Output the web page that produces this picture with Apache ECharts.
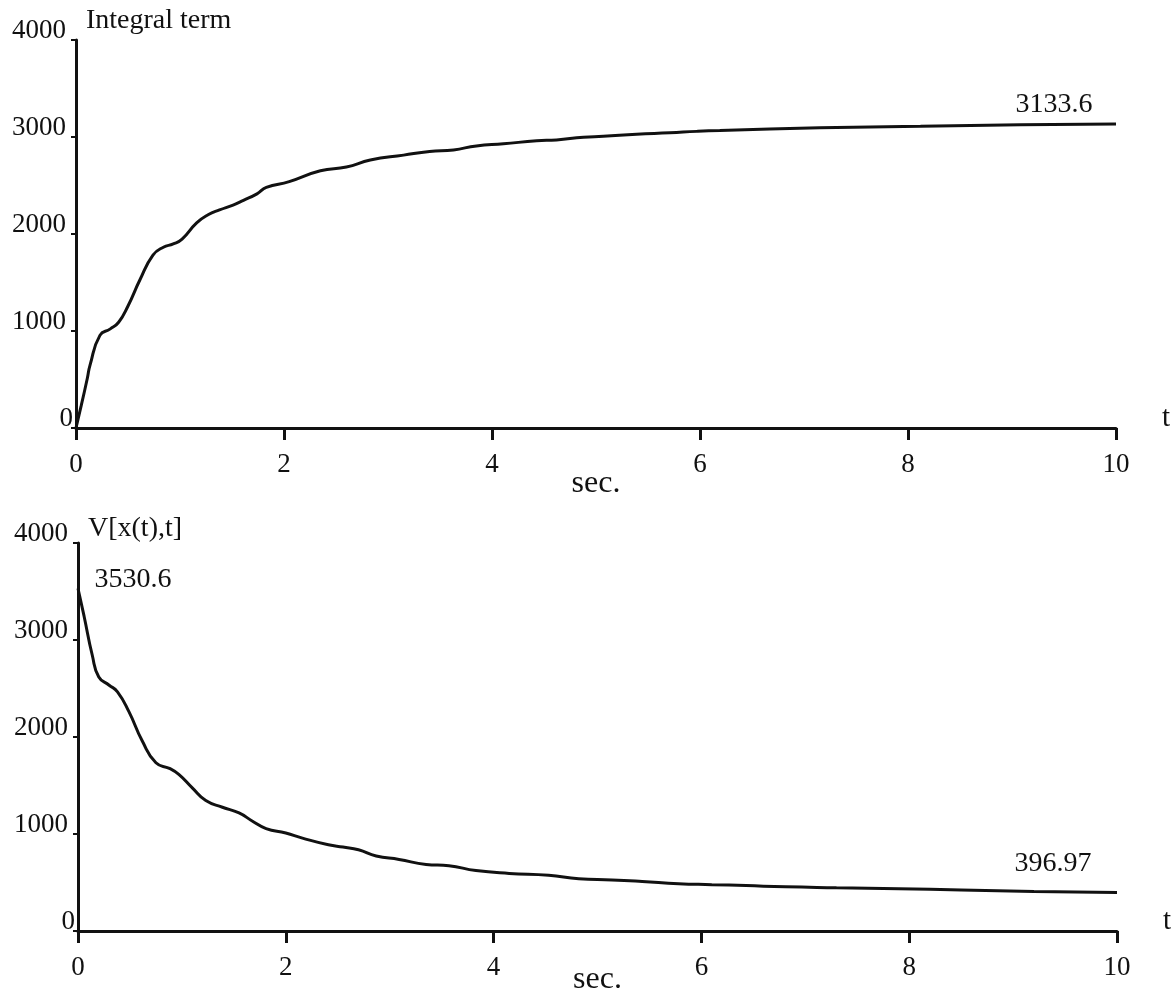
<!DOCTYPE html>
<html>
<head>
<meta charset="utf-8">
<script src="https://cdn.jsdelivr.net/npm/echarts@6/dist/echarts.min.js"></script>
<style>
  html, body { margin: 0; padding: 0; background: #fff; }
  #chart { width: 1175px; height: 996px; }
</style>
</head>
<body>
<div id="chart"></div>
<script>
// Time samples (s) and values of the integral term
const integralT = [0, 0.05, 0.109, 0.135, 0.23, 0.33, 0.41, 0.5, 0.615, 0.74, 0.84, 0.935, 1.02, 1.16, 1.27, 1.38, 1.51, 1.61, 1.74, 1.83, 2.05, 2.35, 2.6, 2.83, 3.15, 3.4, 3.63, 3.85, 4.11, 4.43, 4.62, 4.88, 5.07, 5.39, 5.71, 5.97, 6.19, 7.15, 8.12, 9.08, 10];
const integralV = [0, 230, 513, 648, 955, 1022, 1090, 1258, 1528, 1782, 1864, 1897, 1947, 2114, 2198, 2248, 2298, 2347, 2414, 2480, 2540, 2652, 2690, 2762, 2813, 2851, 2867, 2908, 2930, 2961, 2970, 2998, 3007, 3028, 3043, 3058, 3067, 3095, 3111, 3126, 3133.6];

// Time samples (s) and values of V[x(t),t]
const lyapT = [0, 0.058, 0.138, 0.2, 0.3, 0.38, 0.49, 0.62, 0.75, 0.88, 0.97, 1.1, 1.23, 1.39, 1.55, 1.68, 1.81, 2.0, 2.16, 2.41, 2.55, 2.7, 2.87, 3.09, 3.35, 3.57, 3.83, 4.15, 4.53, 4.82, 5.14, 5.43, 5.78, 6.1, 6.43, 6.81, 7.3, 7.9, 8.5, 9.2, 10];
const lyapV = [3530.6, 3248, 2840, 2619, 2534, 2466, 2262, 1956, 1734, 1676, 1614, 1475, 1345, 1276, 1217, 1132, 1056, 1010, 958, 889, 865, 838, 774, 738, 686, 673, 623, 594, 575, 539, 527, 511, 488, 478, 468, 455, 446, 436, 422, 408, 396.97];

// Axis ticks
const xTicks = [0, 2, 4, 6, 8, 10];
const yTicks = [0, 1000, 2000, 3000, 4000];

const FONT = "'Liberation Serif', 'DejaVu Serif', serif";
const INK = '#111';

function pairs(ts, vs) { return ts.map((t, i) => [t, vs[i]]); }

function xAxisFor(gridIndex) {
  return {
    type: 'value', gridIndex,
    min: xTicks[0], max: xTicks[xTicks.length - 1], interval: xTicks[1] - xTicks[0],
    name: 't', nameLocation: 'end', nameGap: 46, nameMoveOverlap: false,
    nameTextStyle: { fontFamily: FONT, fontSize: 29, color: INK, verticalAlign: 'bottom', lineHeight: 20 },
    axisLine: { show: true, onZero: false, lineStyle: { color: INK, width: 3 } },
    axisTick: { show: true, inside: false, length: 12, lineStyle: { color: INK, width: 3 } },
    axisLabel: { fontFamily: FONT, fontSize: 27, color: INK, margin: 28, lineHeight: 18, verticalAlign: 'top' },
    splitLine: { show: false }
  };
}

function secAxisFor(gridIndex, gap) {
  // label-only x axis carrying the "sec." caption under the middle of the axis
  return {
    type: 'value', gridIndex, position: 'bottom',
    min: xTicks[0], max: xTicks[xTicks.length - 1],
    name: 'sec.', nameLocation: 'middle', nameGap: gap, nameMoveOverlap: false,
    nameTextStyle: { fontFamily: FONT, fontSize: 32, color: INK, lineHeight: 32 },
    axisLine: { show: false }, axisTick: { show: false }, axisLabel: { show: false }, splitLine: { show: false }
  };
}

function yAxisFor(gridIndex, title, gap) {
  return {
    type: 'value', gridIndex,
    min: yTicks[0], max: yTicks[yTicks.length - 1], interval: yTicks[1] - yTicks[0],
    name: title, nameLocation: 'end', nameGap: gap, nameMoveOverlap: false,
    nameTextStyle: { fontFamily: FONT, fontSize: 28, color: INK, align: 'left', verticalAlign: 'bottom', lineHeight: 28, padding: [0, 0, 0, 10] },
    axisLine: { show: true, onZero: false, lineStyle: { color: INK, width: 3 } },
    axisTick: { show: true, inside: false, length: 5, lineStyle: { color: INK, width: 2 } },
    axisLabel: {
      margin: 3, verticalAlign: 'bottom', lineHeight: 18,
      fontFamily: FONT, fontSize: 27, color: INK,
      formatter: v => v === 0 ? '{z|0}' : '{n|' + v + '}',
      rich: {
        n: { fontFamily: FONT, fontSize: 27, color: INK, lineHeight: 18, padding: [0, 7, 0, 0] },
        z: { fontFamily: FONT, fontSize: 27, color: INK, lineHeight: 18 }
      }
    },
    splitLine: { show: false }
  };
}

function valueMark(t, v, offset, align) {
  return {
    coord: [t, v], value: v,
    symbol: 'circle', symbolSize: 1, itemStyle: { color: 'rgba(0,0,0,0)' },
    label: {
      show: true, position: [0, 0], offset, align, verticalAlign: 'bottom', lineHeight: 20,
      fontFamily: FONT, fontSize: 28, color: INK,
      formatter: p => String(p.value)
    }
  };
}

const lineStyle = { color: INK, width: 3 };

const option = {
  backgroundColor: '#fff',
  animation: false,
  grid: [
    { left: 76, right: 59, top: 40, height: 388, outerBoundsMode: 'none' },
    { left: 78, right: 58, top: 543, height: 388, outerBoundsMode: 'none' }
  ],
  xAxis: [xAxisFor(0), xAxisFor(1), secAxisFor(0, 40), secAxisFor(1, 33)],
  yAxis: [yAxisFor(0, 'Integral term', 5), yAxisFor(1, 'V[x(t),t]', 0)],
  series: [
    {
      type: 'line', xAxisIndex: 0, yAxisIndex: 0,
      data: pairs(integralT, integralV),
      showSymbol: false, smooth: 0.5, lineStyle,
      markPoint: {
        silent: true,
        data: [valueMark(integralT[integralT.length - 1], integralV[integralV.length - 1], [-23, -9], 'right')]
      }
    },
    {
      type: 'line', xAxisIndex: 1, yAxisIndex: 1,
      data: pairs(lyapT, lyapV),
      showSymbol: false, smooth: 0.5, lineStyle,
      markPoint: {
        silent: true,
        data: [
          valueMark(lyapT[0], lyapV[0], [17, 2], 'left'),
          valueMark(lyapT[lyapT.length - 1], lyapV[lyapV.length - 1], [-25, -18], 'right')
        ]
      }
    }
  ]
};

const chart = echarts.init(document.getElementById('chart'), null, { renderer: 'canvas' });
chart.setOption(option);
</script>
</body>
</html>
